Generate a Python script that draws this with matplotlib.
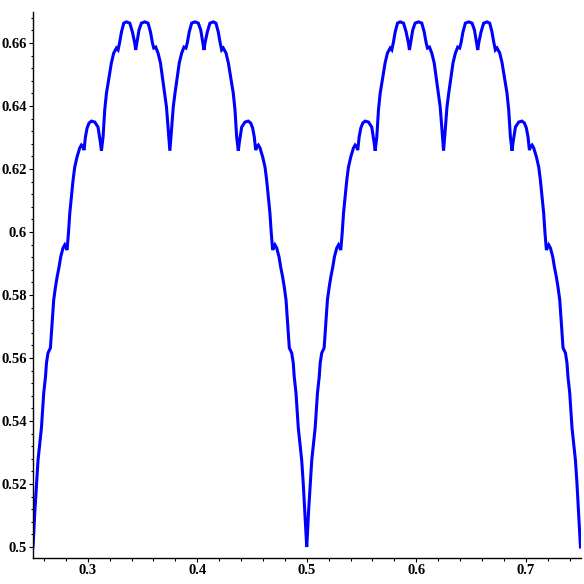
import matplotlib
matplotlib.use("Agg")
import matplotlib.pyplot as plt
from matplotlib.ticker import MultipleLocator

# ---- data -----------------------------------------------------------------
hump1_x = [0.2500, 0.2507, 0.2516, 0.2525, 0.2532, 0.2546, 0.2562, 0.2577, 0.2586, 0.2598,
           0.2614, 0.2623, 0.2637, 0.2659, 0.2668, 0.2678, 0.2689, 0.2705, 0.2720, 0.2738,
           0.2753, 0.2774, 0.2790, 0.2811, 0.2824, 0.2836, 0.2851, 0.2866, 0.2881, 0.2902,
           0.2927, 0.2942, 0.2957, 0.2966, 0.2979, 0.2994, 0.3012, 0.3034, 0.3064, 0.3094,
           0.3116, 0.3125, 0.3140, 0.3155, 0.3171, 0.3195, 0.3216, 0.3237, 0.3262, 0.3277,
           0.3292, 0.3308, 0.3329, 0.3353, 0.3384, 0.3408, 0.3429, 0.3438, 0.3450, 0.3468,
           0.3490, 0.3521, 0.3551, 0.3573, 0.3591, 0.3603, 0.3621, 0.3642, 0.3664, 0.3682,
           0.3703, 0.3719, 0.3733, 0.3742, 0.3750,
           0.3758, 0.3767, 0.3781, 0.3797, 0.3818, 0.3836, 0.3858, 0.3879, 0.3897, 0.3909,
           0.3927, 0.3949, 0.3979, 0.4010, 0.4032, 0.4050, 0.4062, 0.4071, 0.4092, 0.4116,
           0.4147, 0.4171, 0.4192, 0.4208, 0.4223, 0.4238, 0.4263, 0.4284, 0.4305, 0.4329,
           0.4345, 0.4360, 0.4375, 0.4384, 0.4406, 0.4436, 0.4466, 0.4488, 0.4506, 0.4521,
           0.4534, 0.4543, 0.4558, 0.4573, 0.4598, 0.4619, 0.4634, 0.4649, 0.4664, 0.4676,
           0.4689, 0.4710, 0.4726, 0.4747, 0.4762, 0.4780, 0.4795, 0.4811, 0.4822, 0.4832,
           0.4841, 0.4863, 0.4877, 0.4886, 0.4902, 0.4914, 0.4923, 0.4938, 0.4954, 0.4968,
           0.4975, 0.4984, 0.4993, 0.5000]
hump1_y = [0.5000, 0.5044, 0.5108, 0.5159, 0.5203, 0.5276, 0.5330, 0.5378, 0.5425, 0.5489,
           0.5540, 0.5584, 0.5616, 0.5632, 0.5679, 0.5730, 0.5784, 0.5825, 0.5857, 0.5889,
           0.5921, 0.5949, 0.5959, 0.5943, 0.5997, 0.6060, 0.6111, 0.6165, 0.6206, 0.6238,
           0.6267, 0.6276, 0.6270, 0.6260, 0.6302, 0.6330, 0.6346, 0.6352, 0.6349, 0.6333,
           0.6283, 0.6258, 0.6302, 0.6387, 0.6441, 0.6492, 0.6537, 0.6568, 0.6584, 0.6578,
           0.6603, 0.6635, 0.6663, 0.6667, 0.6663, 0.6635, 0.6600, 0.6578, 0.6603, 0.6641,
           0.6663, 0.6667, 0.6663, 0.6635, 0.6600, 0.6584, 0.6587, 0.6568, 0.6537, 0.6492,
           0.6441, 0.6397, 0.6333, 0.6292, 0.6258,
           0.6292, 0.6333, 0.6397, 0.6441, 0.6492, 0.6537, 0.6568, 0.6587, 0.6584, 0.6600,
           0.6635, 0.6663, 0.6667, 0.6663, 0.6641, 0.6603, 0.6578, 0.6600, 0.6635, 0.6663,
           0.6667, 0.6663, 0.6635, 0.6603, 0.6578, 0.6584, 0.6568, 0.6537, 0.6492, 0.6441,
           0.6387, 0.6302, 0.6258, 0.6283, 0.6333, 0.6349, 0.6352, 0.6346, 0.6330, 0.6302,
           0.6260, 0.6270, 0.6276, 0.6267, 0.6238, 0.6206, 0.6165, 0.6111, 0.6060, 0.5997,
           0.5943, 0.5959, 0.5949, 0.5921, 0.5889, 0.5857, 0.5825, 0.5784, 0.5730, 0.5679,
           0.5632, 0.5616, 0.5584, 0.5540, 0.5489, 0.5425, 0.5378, 0.5330, 0.5276, 0.5203,
           0.5159, 0.5108, 0.5044, 0.5000]

hump2_x = [0.5000, 0.5007, 0.5016, 0.5025, 0.5032, 0.5046, 0.5062, 0.5077, 0.5086, 0.5098,
           0.5114, 0.5123, 0.5137, 0.5159, 0.5168, 0.5178, 0.5189, 0.5205, 0.5220, 0.5238,
           0.5253, 0.5274, 0.5290, 0.5311, 0.5324, 0.5336, 0.5351, 0.5366, 0.5381, 0.5402,
           0.5427, 0.5442, 0.5457, 0.5466, 0.5479, 0.5494, 0.5512, 0.5534, 0.5564, 0.5594,
           0.5616, 0.5625, 0.5640, 0.5655, 0.5671, 0.5695, 0.5716, 0.5737, 0.5762, 0.5777,
           0.5792, 0.5808, 0.5829, 0.5853, 0.5884, 0.5908, 0.5929, 0.5938, 0.5950, 0.5968,
           0.5990, 0.6021, 0.6051, 0.6073, 0.6091, 0.6103, 0.6121, 0.6142, 0.6164, 0.6182,
           0.6203, 0.6219, 0.6233, 0.6242, 0.6250,
           0.6258, 0.6267, 0.6281, 0.6297, 0.6318, 0.6336, 0.6358, 0.6379, 0.6397, 0.6409,
           0.6427, 0.6449, 0.6479, 0.6510, 0.6532, 0.6550, 0.6562, 0.6571, 0.6592, 0.6616,
           0.6647, 0.6671, 0.6692, 0.6708, 0.6723, 0.6738, 0.6763, 0.6784, 0.6805, 0.6829,
           0.6845, 0.6860, 0.6875, 0.6884, 0.6906, 0.6936, 0.6966, 0.6988, 0.7006, 0.7021,
           0.7034, 0.7043, 0.7058, 0.7073, 0.7098, 0.7119, 0.7134, 0.7149, 0.7164, 0.7176,
           0.7189, 0.7210, 0.7226, 0.7247, 0.7262, 0.7280, 0.7295, 0.7311, 0.7322, 0.7332,
           0.7341, 0.7363, 0.7377, 0.7386, 0.7402, 0.7414, 0.7423, 0.7438, 0.7454, 0.7468,
           0.7475, 0.7484, 0.7493, 0.7500]
hump2_y = [0.5000, 0.5044, 0.5108, 0.5159, 0.5203, 0.5276, 0.5330, 0.5378, 0.5425, 0.5489,
           0.5540, 0.5584, 0.5616, 0.5632, 0.5679, 0.5730, 0.5784, 0.5825, 0.5857, 0.5889,
           0.5921, 0.5949, 0.5959, 0.5943, 0.5997, 0.6060, 0.6111, 0.6165, 0.6206, 0.6238,
           0.6267, 0.6276, 0.6270, 0.6260, 0.6302, 0.6330, 0.6346, 0.6352, 0.6349, 0.6333,
           0.6283, 0.6258, 0.6302, 0.6387, 0.6441, 0.6492, 0.6537, 0.6568, 0.6584, 0.6578,
           0.6603, 0.6635, 0.6663, 0.6667, 0.6663, 0.6635, 0.6600, 0.6578, 0.6603, 0.6641,
           0.6663, 0.6667, 0.6663, 0.6635, 0.6600, 0.6584, 0.6587, 0.6568, 0.6537, 0.6492,
           0.6441, 0.6397, 0.6333, 0.6292, 0.6258,
           0.6292, 0.6333, 0.6397, 0.6441, 0.6492, 0.6537, 0.6568, 0.6587, 0.6584, 0.6600,
           0.6635, 0.6663, 0.6667, 0.6663, 0.6641, 0.6603, 0.6578, 0.6600, 0.6635, 0.6663,
           0.6667, 0.6663, 0.6635, 0.6603, 0.6578, 0.6584, 0.6568, 0.6537, 0.6492, 0.6441,
           0.6387, 0.6302, 0.6258, 0.6283, 0.6333, 0.6349, 0.6352, 0.6346, 0.6330, 0.6302,
           0.6260, 0.6270, 0.6276, 0.6267, 0.6238, 0.6206, 0.6165, 0.6111, 0.6060, 0.5997,
           0.5943, 0.5959, 0.5949, 0.5921, 0.5889, 0.5857, 0.5825, 0.5784, 0.5730, 0.5679,
           0.5632, 0.5616, 0.5584, 0.5540, 0.5489, 0.5425, 0.5378, 0.5330, 0.5276, 0.5203,
           0.5159, 0.5108, 0.5044, 0.5000]

x_ticks = [0.3, 0.4, 0.5, 0.6, 0.7]
x_tick_labels = ["0.3", "0.4", "0.5", "0.6", "0.7"]
y_ticks = [0.50, 0.52, 0.54, 0.56, 0.58, 0.60, 0.62, 0.64, 0.66]
y_tick_labels = ["0.5", "0.52", "0.54", "0.56", "0.58", "0.6", "0.62", "0.64", "0.66"]

# ---- figure ----------------------------------------------------------------
W = H = 584
fig = plt.figure(figsize=(W / 100, H / 100), dpi=100)
ax = fig.add_axes([33 / W, 26 / H, (581 - 33) / W, (558 - 12) / H])

line_x = hump1_x + hump2_x[1:]
line_y = hump1_y + hump2_y[1:]
ax.plot(line_x, line_y, color="#0000ff", linewidth=2.2, solid_joinstyle="miter")

ax.set_xlim(0.25, 0.7505)
ax.set_ylim(0.49651, 0.66984)

for s in ["top", "right"]:
    ax.spines[s].set_visible(False)
for s in ["left", "bottom"]:
    ax.spines[s].set_linewidth(1.0)
    ax.spines[s].set_color("black")

ax.set_xticks(x_ticks)
ax.set_xticklabels(x_tick_labels)
ax.set_yticks(y_ticks)
ax.set_yticklabels(y_tick_labels)
ax.xaxis.set_minor_locator(MultipleLocator(0.02))
ax.yaxis.set_minor_locator(MultipleLocator(0.004))

ax.tick_params(axis="both", which="major", direction="out", length=3.0, width=0.8,
               color="black", pad=1.5)
ax.tick_params(axis="both", which="minor", direction="out", length=1.8, width=0.8,
               color="black")
ax.tick_params(axis="x", which="major", pad=1.0)

for lab in ax.get_xticklabels() + ax.get_yticklabels():
    lab.set_fontfamily("Liberation Serif")
    lab.set_fontweight("bold")
    lab.set_fontsize(10.5)

fig.savefig("out.png", dpi=100)
